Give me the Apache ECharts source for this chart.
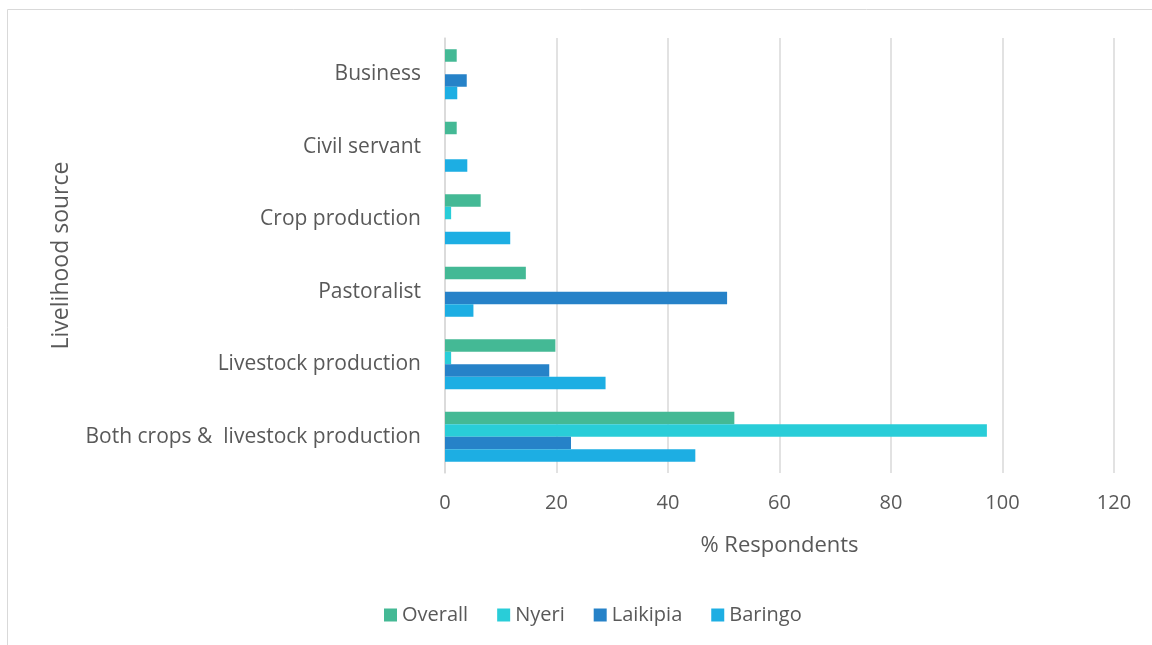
<!DOCTYPE html>
<html>
<head>
<meta charset="utf-8">
<script src="https://cdn.jsdelivr.net/npm/echarts@6/dist/echarts.min.js"></script>
<style>
html,body{margin:0;padding:0;background:#fff;}
#c{width:1152px;height:645px;}
</style>
</head>
<body>
<div id="c"></div>
<script>
const categories = ['Both crops &  livestock production','Livestock production','Pastoralist','Crop production','Civil servant','Business'];
const overall  = [51.9, 19.8, 14.5, 6.4, 2.1, 2.1];
const nyeri    = [97.2, 1.1, '-', 1.1, '-', '-'];
const laikipia = [22.6, 18.7, 50.6, '-', '-', 3.9];
const baringo  = [44.9, 28.8, 5.1, 11.7, 4.0, 2.2];
const xTicks = [0, 20, 40, 60, 80, 100, 120];

const FONT = 'Open Sans';
const TXT = '#595959';
const chart = echarts.init(document.getElementById('c'));
const mk = (name, data, color) => ({
  name, type: 'bar', data, barGap: '0%', barCategoryGap: '31%',
  itemStyle: { color }
});
chart.setOption({
  animation: false,
  textStyle: { fontFamily: FONT },
  graphic: [{
    type: 'rect', shape: { x: 7.5, y: 9.5, width: 1160, height: 650 },
    style: { fill: 'none', stroke: '#d9d9d9', lineWidth: 1 }, silent: true
  }],
  grid: { left: 445, right: 38, top: 38, bottom: 172 },
  legend: {
    data: ['Overall','Nyeri','Laikipia','Baringo'],
    top: 600, left: 379, icon: 'rect', itemWidth: 13, itemHeight: 13, itemGap: 29,
    textStyle: { color: TXT, fontSize: 20, fontFamily: FONT }
  },
  xAxis: {
    type: 'value', min: xTicks[0], max: xTicks[xTicks.length-1], interval: 20,
    name: '% Respondents', nameLocation: 'middle', nameGap: 62,
    nameTextStyle: { color: TXT, fontSize: 22, fontFamily: FONT },
    axisLine: { show: false }, axisTick: { show: false },
    axisLabel: { color: TXT, fontSize: 20, margin: 20, fontFamily: FONT },
    splitLine: { show: true, lineStyle: { color: '#d9d9d9', width: 1.5 } }
  },
  yAxis: {
    type: 'category', data: categories,
    name: 'Livelihood source', nameLocation: 'middle', nameGap: 372, nameRotate: 90,
    nameTextStyle: { color: TXT, fontSize: 23, fontFamily: FONT },
    axisLine: { show: true, lineStyle: { color: '#d9d9d9', width: 1.5 } },
    axisTick: { show: false },
    axisLabel: { color: TXT, fontSize: 21, margin: 24, fontFamily: FONT }
  },
  series: [
    mk('Overall', overall, '#44B995'),
    mk('Nyeri', nyeri, '#29CDD8'),
    mk('Laikipia', laikipia, '#2682C8'),
    mk('Baringo', baringo, '#1DAEE3')
  ]
});
</script>
</body>
</html>
